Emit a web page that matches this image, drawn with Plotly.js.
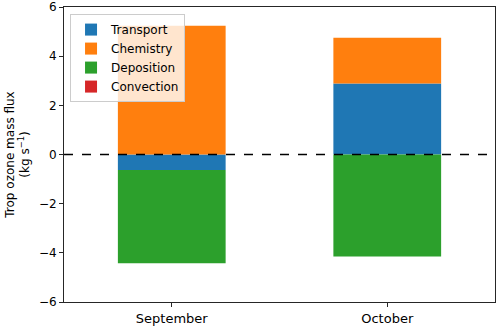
<!DOCTYPE html>
<html>
<head>
<meta charset="utf-8">
<script src="https://cdn.plot.ly/plotly-3.0.1.min.js"></script>
<style>
  html, body { margin: 0; padding: 0; background: #fff; }
  #chart { width: 500px; height: 327px; }
</style>
</head>
<body>
<div id="chart"></div>
<script>
// Months and flux components (kg s^-1)
const months = ["September", "October"];
const transport = [-0.63, 2.89];
const chemistry = [5.24, 1.86];
const deposition = [-3.79, -4.15];
const convection = [0, 0];

const series = [
    {name: "Transport", y: transport, color: "#1f77b4"},
    {name: "Chemistry", y: chemistry, color: "#ff7f0e"},
    {name: "Deposition", y: deposition, color: "#2ca02c"},
    {name: "Convection", y: convection, color: "#d62728"}
];

const traces = series.map(s => ({
    type: "bar",
    name: s.name,
    x: months,
    y: s.y,
    width: 0.5,
    marker: {color: s.color, line: {width: 0}}
}));

const font = "DejaVu Sans, sans-serif";

Plotly.newPlot("chart", traces, {
    width: 500,
    height: 327,
    barmode: "relative",
    margin: {l: 64, r: 5, t: 7, b: 25},
    plot_bgcolor: "#fff",
    paper_bgcolor: "#fff",
    font: {family: font, color: "#000", size: 11},
    showlegend: true,
    legend: {
        x: 0.014, y: 0.976,
        xanchor: "left", yanchor: "top",
        bgcolor: "rgba(255,255,255,0.8)",
        bordercolor: "#ccc",
        borderwidth: 1,
        font: {size: 12, family: font},
        tracegroupgap: 0
    },
    xaxis: {
        range: [-0.5, 1.5],
        showgrid: false,
        showline: true,
        linecolor: "#262626",
        linewidth: 1,
        mirror: true,
        ticks: "outside",
        ticklen: 4,
        tickcolor: "#262626",
        tickfont: {size: 13, family: font}
    },
    yaxis: {
        title: {text: "Trop ozone mass flux<br>(kg s<sup>−1</sup>)", font: {size: 12, family: font}, standoff: 6},
        range: [-6, 6],
        tickvals: [-6, -4, -2, 0, 2, 4, 6],
        showgrid: false,
        zeroline: false,
        showline: true,
        linecolor: "#262626",
        linewidth: 1,
        mirror: true,
        ticks: "outside",
        ticklen: 4,
        tickcolor: "#262626",
        tickfont: {size: 12, family: font}
    },
    shapes: [{
        type: "line", xref: "paper", yref: "y",
        x0: 0, x1: 1, y0: 0, y1: 0,
        line: {color: "#000", width: 1.5, dash: "dash"},
        layer: "above"
    }]
}, {displayModeBar: false});
</script>
</body>
</html>
